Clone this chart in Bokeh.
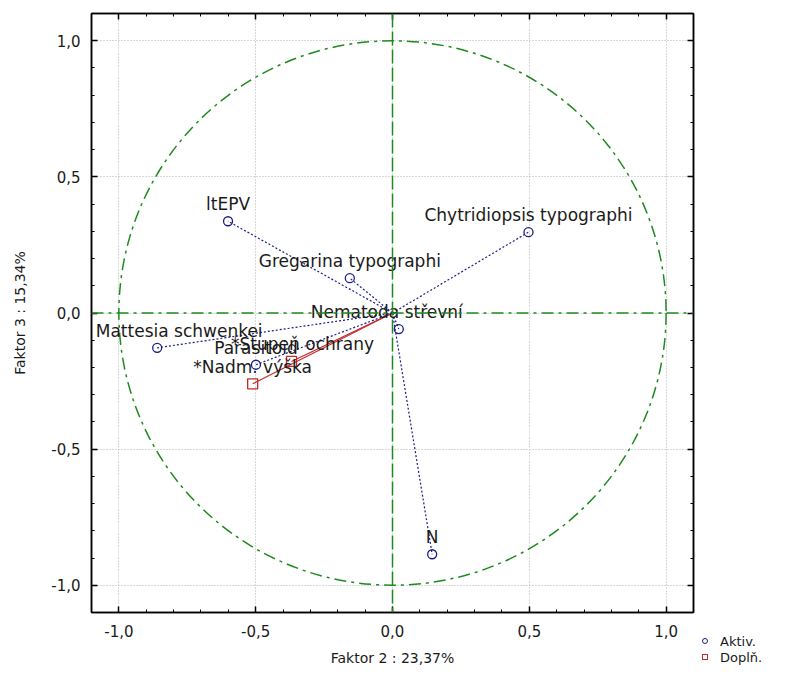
from bokeh.plotting import figure
from bokeh.layouts import row
from bokeh.models import (FixedTicker, CustomJSTickFormatter, LinearAxis, Range1d,
                          Span, ColumnDataSource, Div)
from bokeh.core.properties import value
from bokeh.embed import file_html
from bokeh.resources import INLINE
import numpy as np

# active variables
act_names = ["ltEPV", "Chytridiopsis typographi", "Gregarina typographi", "Nematoda střevní",
             "Mattesia schwenkei", "Parasitoid", "N"]
act_x = [-0.601, 0.497, -0.156, 0.023, -0.860, -0.499, 0.145]
act_y = [0.337, 0.297, 0.128, -0.059, -0.128, -0.190, -0.886]

# supplementary variables
sup_names = ["*Stupeň ochrany", "*Nadm. výška"]
sup_x = [-0.369, -0.511]
sup_y = [-0.178, -0.260]

major_ticks = [-1.0, -0.5, 0.0, 0.5, 1.0]
x_label = "Faktor 2 : 23,37%"
y_label = "Faktor 3 : 15,34%"
legend_labels = ["Aktiv.", "Doplň."]

# label nudges in pixels (style only)
act_label_dx = [0, 0, 0, -12, 22, 0, 0]
sup_label_dx = [11, 0]

FONT = "DejaVu Sans"
BLUE = "#1c1c8a"
RED = "#c42a2a"
GREEN = "#1e8a1e"
TXT = "#1a1a1a"

p = figure(frame_width=602, frame_height=599, output_backend="svg", toolbar_location=None,
           x_range=Range1d(-1.1, 1.1), y_range=Range1d(-1.1, 1.1),
           min_border_left=91, min_border_right=4, min_border_top=13, min_border_bottom=71,
           background_fill_color="white", border_fill_color="white")
p.outline_line_color = "black"
p.outline_line_width = 1.5

minor = [round(v, 2) for v in np.arange(-1.1, 1.101, 0.1)]
fmt = CustomJSTickFormatter(code="return tick.toFixed(1).replace('.', ',');")

for ax in p.xaxis + p.yaxis:
    ax.ticker = FixedTicker(ticks=major_ticks, minor_ticks=minor)
    ax.formatter = fmt
    ax.major_tick_in = 6
    ax.major_tick_out = 0
    ax.minor_tick_in = 3
    ax.minor_tick_out = 0
    ax.major_label_text_font = FONT
    ax.major_label_text_font_size = "15px"
    ax.major_label_text_color = TXT
    ax.axis_label_text_font = FONT
    ax.axis_label_text_font_size = "14px"
    ax.axis_label_text_font_style = "normal"
    ax.axis_label_text_color = TXT
    ax.axis_line_color = "black"
    ax.axis_line_width = 1.5
    ax.major_tick_line_width = 1.5

p.xaxis.axis_label = x_label
p.yaxis.axis_label = y_label
p.xaxis.major_label_standoff = 12
p.xaxis.axis_label_standoff = 10
p.yaxis.major_label_standoff = 11
p.yaxis.axis_label_standoff = 20

blank = CustomJSTickFormatter(code="return '';")
for side in ["above", "right"]:
    ax = LinearAxis(ticker=FixedTicker(ticks=major_ticks, minor_ticks=minor),
                    formatter=blank, major_label_text_color=None,
                    major_label_text_font_size="1px", major_label_standoff=0,
                    major_tick_in=6, major_tick_out=0, minor_tick_in=3, minor_tick_out=0,
                    axis_line_width=1.5, major_tick_line_width=1.5)
    p.add_layout(ax, side)

p.grid.ticker = FixedTicker(ticks=major_ticks)
p.grid.grid_line_color = "#b0b0b0"
p.grid.grid_line_dash = "1 2"
p.grid.grid_line_width = 1

# unit circle and axes lines
p.ellipse(x=0, y=0, width=2, height=2, fill_alpha=0, line_color=GREEN,
          line_dash="12 5 3 5", line_width=1.5)
p.add_layout(Span(location=0, dimension="width", line_color=GREEN,
                  line_dash="12 5 3 5", line_width=1.5))
p.add_layout(Span(location=0, dimension="height", line_color=GREEN,
                  line_dash="14 4", line_width=1.5))

# vectors
p.segment(x0=[0] * len(act_x), y0=[0] * len(act_y), x1=act_x, y1=act_y,
          line_color=BLUE, line_dash="2 2", line_width=1.2)
p.segment(x0=[0] * len(sup_x), y0=[0] * len(sup_y), x1=sup_x, y1=sup_y,
          line_color=RED, line_width=1.2)

src_a = ColumnDataSource(dict(x=act_x, y=act_y, t=act_names, dx=act_label_dx))
src_s = ColumnDataSource(dict(x=sup_x, y=sup_y, t=sup_names, dx=sup_label_dx))

p.scatter("x", "y", source=src_a, marker="circle", size=9, fill_alpha=0,
          line_color=BLUE, line_width=1.3)
p.scatter("x", "y", source=src_s, marker="square", size=10, fill_alpha=0,
          line_color=RED, line_width=1.3)

for src in (src_a, src_s):
    p.text("x", "y", text="t", source=src, x_offset="dx", text_align="center",
           text_baseline="middle", y_offset=-17, text_font=value(FONT),
           text_font_size="17px", text_color=TXT)

# legend drawn as a small HTML panel beside the chart (below-right corner)
legend_html = (
    f'<div style="position:relative;width:105px;height:683px;'
    f'font-family:\'{FONT}\';font-size:13px;color:{TXT};">'
    f'<div style="position:absolute;left:5px;top:638px;width:6px;height:6px;'
    f'border:1.3px solid {BLUE};border-radius:50%;"></div>'
    f'<div style="position:absolute;left:23px;top:634px;line-height:16px;">{legend_labels[0]}</div>'
    f'<div style="position:absolute;left:5px;top:654px;width:6px;height:6px;'
    f'border:1.3px solid {RED};"></div>'
    f'<div style="position:absolute;left:23px;top:650px;line-height:16px;">{legend_labels[1]}</div>'
    f'</div>'
)
leg = Div(text=legend_html, width=105, height=683, margin=0)

layout = row(p, leg, spacing=0)
open("out.html", "w").write(file_html(layout, INLINE))
